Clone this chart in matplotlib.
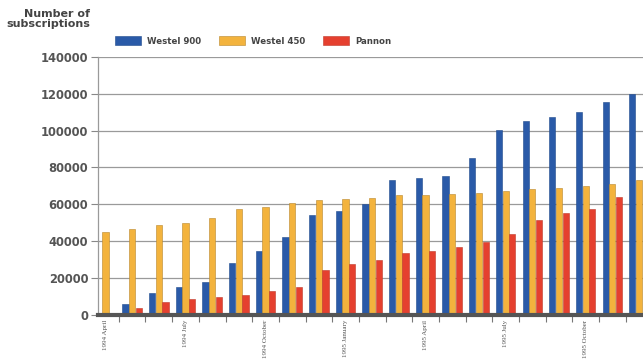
import numpy as np
import matplotlib.pyplot as plt
from matplotlib.patches import Patch

months = [
    "1994 April", "1994 May", "1994 June", "1994 July", "1994 August",
    "1994 September", "1994 October", "1994 November", "1994 December",
    "1995 January", "1995 February", "1995 March", "1995 April", "1995 May",
    "1995 June", "1995 July", "1995 August", "1995 September",
    "1995 October", "1995 November", "1995 December",
]
westel900 = [0, 5500, 11900, 14800, 17700, 27800, 34700, 42200, 53900, 56300,
             60300, 73000, 74100, 75200, 85200, 100300, 105000, 107200, 110100,
             115400, 119900]
westel450 = [44900, 46400, 48800, 50000, 52200, 57400, 58600, 60400, 62300, 62800,
             63400, 64700, 65000, 65600, 66100, 67400, 68500, 69000, 70100,
             71200, 73000]
pannon = [800, 3800, 6600, 8600, 9700, 10600, 12600, 14800, 24300, 27600,
          29400, 33200, 34700, 36500, 39400, 43600, 51400, 55000, 57200,
          63800, 66000]
series_names = ["Westel 900", "Westel 450", "Pannon"]
colors = ["#2a5aa8", "#f3b33d", "#e5402f"]
edges = ["#1f4a8c", "#b8862a", "#c0392b"]

fig = plt.figure(figsize=(6.43, 3.61), dpi=100)
ax = fig.add_axes([98 / 643, 1 - 314.5 / 361, 1 - 98 / 643 + 0.002, (314.5 - 57) / 361])

x = np.arange(len(months))
w = 0.25
for k, vals in enumerate([westel900, westel450, pannon]):
    ax.bar(x + (k - 1) * w, vals, width=w * 0.92, color=colors[k],
           edgecolor=edges[k], linewidth=0.4, zorder=3)

ax.set_xlim(-0.28, 20.2)
ax.set_ylim(0, 140000)
ax.set_yticks(np.arange(0, 140001, 20000))
ax.set_yticklabels([str(v) for v in range(0, 140001, 20000)],
                   fontsize=8.3, fontweight="bold", color="#555555")
ax.yaxis.grid(True, color="#9a9a9a", linewidth=0.9, zorder=0)
ax.tick_params(axis="y", length=5, color="#888888", width=0.8, pad=2)

label_idx = list(range(0, len(months), 3))
ax.set_xticks(x[label_idx])
ax.set_xticklabels([months[i] for i in label_idx], rotation=90,
                   fontsize=5.0, family="Liberation Serif", color="#555555", va="top")
ax.tick_params(axis="x", length=0, pad=4)
ax.set_xticks(x[:-1] + 0.5, minor=True)
ax.tick_params(axis="x", which="minor", length=5, color="#777777", width=0.8)

for s in ["top", "right"]:
    ax.spines[s].set_visible(False)
ax.spines["left"].set_color("#9a9a9a")
ax.spines["left"].set_linewidth(0.9)
ax.spines["bottom"].set_color("#555555")
ax.spines["bottom"].set_linewidth(3)
ax.spines["bottom"].set_zorder(4)

fig.text(90 / 643, 1 - 9 / 361, "Number of\nsubscriptions", ha="right", va="top",
         fontsize=8, fontweight="bold", color="#444444", linespacing=0.95)

handles = [Patch(facecolor=c, edgecolor=e, linewidth=0.4) for c, e in zip(colors, edges)]
fig.legend(handles, series_names, loc="center left",
           bbox_to_anchor=(107 / 643, 1 - 41 / 361), ncol=3, frameon=False,
           handlelength=3.0, handleheight=1.1, columnspacing=2.1, handletextpad=0.7,
           prop={"size": 6.2, "weight": "bold"}, labelcolor="#444444")

fig.savefig("out.png", dpi=100)
